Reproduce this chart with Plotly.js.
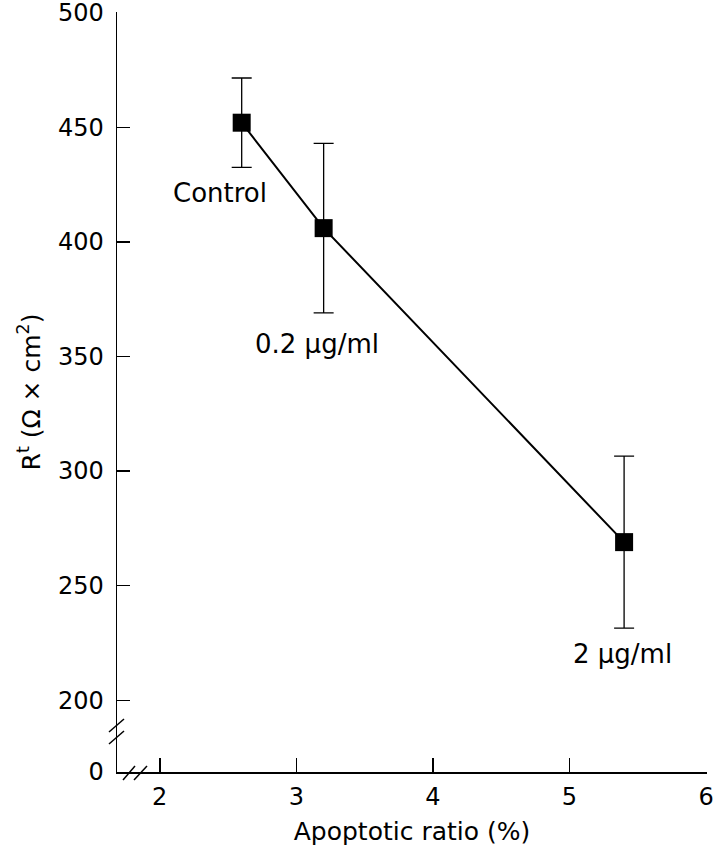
<!DOCTYPE html>
<html>
<head>
<meta charset="utf-8">
<script src="https://cdn.plot.ly/plotly-3.0.1.min.js"></script>
<style>html,body{margin:0;padding:0;background:#fff;}#chart{width:716px;height:853px;}</style>
</head>
<body>
<div id="chart"></div>
<script>
// Data
const apoptoticRatio = [2.6, 3.2, 5.4];
const resistance = [452, 406, 269];
const resistanceErr = [19.5, 37, 37.5];
const pointLabels = ['Control', '0.2 \u00b5g/ml', '2 \u00b5g/ml'];
const yTickValues = [200, 250, 300, 350, 400, 450, 500];
const yTickLabels = ['200', '250', '300', '350', '400', '450', '500'];
const xTickValues = [2, 3, 4, 5, 6];
const xTickLabels = ['2', '3', '4', '5', '6'];

// Layout geometry
const W = 716, H = 853;
const M = {l: 117, r: 9, t: 12, b: 81};
const yBottom = 168.7;     // broken-axis bottom, labelled "0"
const font = 'DejaVu Sans, Liberation Sans, sans-serif';
const pw = W - M.l - M.r, ph = H - M.t - M.b;
const px = x => (x - M.l) / pw;
const py = y => (H - M.b - y) / ph;

const labelShifts = [[-22, -70], [-7, -116], [-2, -112]];

const trace = {
  x: apoptoticRatio,
  y: resistance,
  type: 'scatter',
  mode: 'lines+markers',
  line: {color: '#000', width: 2},
  marker: {symbol: 'square', size: 18, color: '#000'},
  error_y: {type: 'data', array: resistanceErr, visible: true, color: '#000', thickness: 1.3, width: 10},
  cliponaxis: false,
  showlegend: false
};

const slash = (x0, y0, x1, y1) => ({
  type: 'line', xref: 'paper', yref: 'paper',
  x0: px(x0), y0: py(y0), x1: px(x1), y1: py(y1),
  line: {color: '#000', width: 1.5}
});

const layout = {
  width: W, height: H,
  margin: M,
  paper_bgcolor: '#fff', plot_bgcolor: '#fff',
  font: {family: font, size: 24, color: '#000'},
  xaxis: {
    range: [1.687, 6.007], tickvals: xTickValues, ticktext: xTickLabels,
    showline: true, linecolor: '#000', linewidth: 1.5,
    ticks: 'inside', ticklen: 14, tickwidth: 1.5, tickcolor: '#000',
    showgrid: false, zeroline: false, ticklabelstandoff: 3,
    ticklabeloverflow: 'allow',
    tickfont: {family: font, size: 24},
    title: {text: 'Apoptotic ratio (%)', font: {family: font, size: 25}, standoff: 12}
  },
  yaxis: {
    range: [yBottom, 500.3],
    tickvals: [yBottom].concat(yTickValues), ticktext: ['0'].concat(yTickLabels),
    showline: true, linecolor: '#000', linewidth: 1.5,
    ticks: 'inside', ticklen: 13, tickwidth: 1.5, tickcolor: '#000',
    showgrid: false, zeroline: false, ticklabelstandoff: 7,
    ticklabeloverflow: 'allow',
    tickfont: {family: font, size: 24},
    title: {text: 'R<sup>t</sup> (\u03a9 \u00d7 cm<sup>2</sup>)', font: {family: font, size: 25}, standoff: 10}
  },
  annotations: apoptoticRatio.map((x, i) => ({
    x: x, y: resistance[i], xref: 'x', yref: 'y',
    text: pointLabels[i], showarrow: false,
    xshift: labelShifts[i][0], yshift: labelShifts[i][1],
    font: {family: font, size: 26, color: '#000'}
  })),
  shapes: [
    slash(109, 732, 124, 719),
    slash(109, 744, 124, 731),
    slash(123, 780, 135, 766),
    slash(134, 780, 147, 766)
  ]
};

Plotly.newPlot('chart', [trace], layout, {displayModeBar: false, staticPlot: true});
</script>
</body>
</html>
